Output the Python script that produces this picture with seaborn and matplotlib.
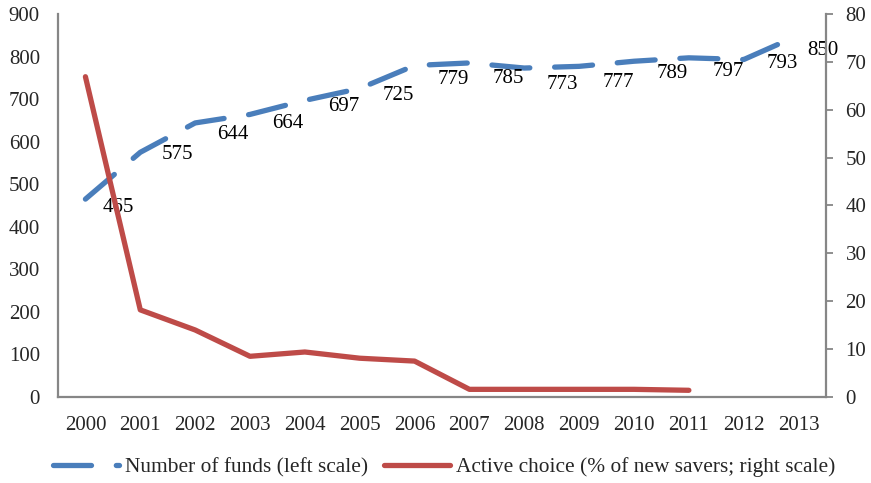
import matplotlib
matplotlib.use("Agg")
import matplotlib.pyplot as plt
import pandas as pd
import seaborn as sns

# data
years = [2000, 2001, 2002, 2003, 2004, 2005, 2006, 2007, 2008, 2009, 2010, 2011, 2012, 2013]
funds = [465, 575, 644, 664, 697, 725, 779, 785, 773, 777, 789, 797, 793, 850]
choice_years = [2000, 2001, 2002, 2003, 2004, 2005, 2006, 2007, 2008, 2009, 2010, 2011]
active_choice = [66.9, 18.2, 14.0, 8.5, 9.4, 8.1, 7.5, 1.6, 1.6, 1.6, 1.6, 1.4]

# label nudges (pixels right, pixels down) as in the original
label_dx = [17, 21, 22, 22, 23, 23, 23, 23, 22, 23, 23, 24, 23, 9]
label_dy = [8, 2, 12, 9, 6, 7, 14, 16, 16, 16, 12, 14, 4, 15]

blue = "#4A7EBB"
red = "#BE4B48"
grey = "#868686"

sns.set_style("white")
plt.rcParams["font.family"] = ["Liberation Serif", "DejaVu Serif"]
plt.rcParams["font.size"] = 15

df_funds = pd.DataFrame({"year": years, "funds": funds})
df_choice = pd.DataFrame({"year": choice_years, "choice": active_choice})

fig = plt.figure(figsize=(8.71, 4.83), dpi=100)
ax = fig.add_axes([58 / 871, 1 - 397 / 483, (826 - 58) / 871, (397 - 14) / 483])
ax2 = ax.twinx()

sns.lineplot(data=df_funds, x="year", y="funds", ax=ax, color=blue, linewidth=3.8,
             label="Number of funds (left scale)", legend=False)
ax.lines[0].set_dashes([7.2, 4.7])
ax.lines[0].set_dash_capstyle("round")

sns.lineplot(data=df_choice, x="year", y="choice", ax=ax2, color=red, linewidth=3.8,
             label="Active choice (% of new savers; right scale)", legend=False)
ax2.lines[0].set_solid_capstyle("round")

for yr, v, dx, dy in zip(years, funds, label_dx, label_dy):
    ax.annotate(str(v), (yr, v), xytext=(dx, -dy), textcoords="offset pixels",
                ha="left", va="center", fontsize=15, color="black")

ax.set_xlim(1999.5, 2013.5)
ax.set_ylim(0, 900)
ax2.set_ylim(0, 80)
ax.set_xticks(years)
ax.set_xticklabels([str(y) for y in years])
ax.set_yticks(range(0, 901, 100))
ax2.set_yticks(range(0, 81, 10))
ax.set_xlabel("")
ax.set_ylabel("")
ax2.set_ylabel("")

ax.tick_params(axis="x", length=0, pad=14, labelsize=15)
ax.tick_params(axis="y", length=0, pad=13, labelsize=15)
ax2.tick_params(axis="y", length=5, width=1.3, color=grey, pad=9, labelsize=15, right=True)

for a in (ax, ax2):
    a.spines["top"].set_visible(False)
    for s in ("left", "bottom", "right"):
        a.spines[s].set_color(grey)
        a.spines[s].set_linewidth(1.6)
ax.spines["right"].set_visible(False)
ax2.spines["left"].set_visible(False)
ax2.spines["bottom"].set_visible(False)

handles = ax.get_lines()[:1] + ax2.get_lines()[:1]
labels = ["Number of funds (left scale)", "Active choice (% of new savers; right scale)"]
fig.legend(handles, labels, loc="center", bbox_to_anchor=(0.51, 1 - 467 / 483), ncol=2,
           frameon=False, fontsize=15.4, handlelength=3.1, handletextpad=0.3, columnspacing=0.7)

fig.savefig("out.png", dpi=100)
